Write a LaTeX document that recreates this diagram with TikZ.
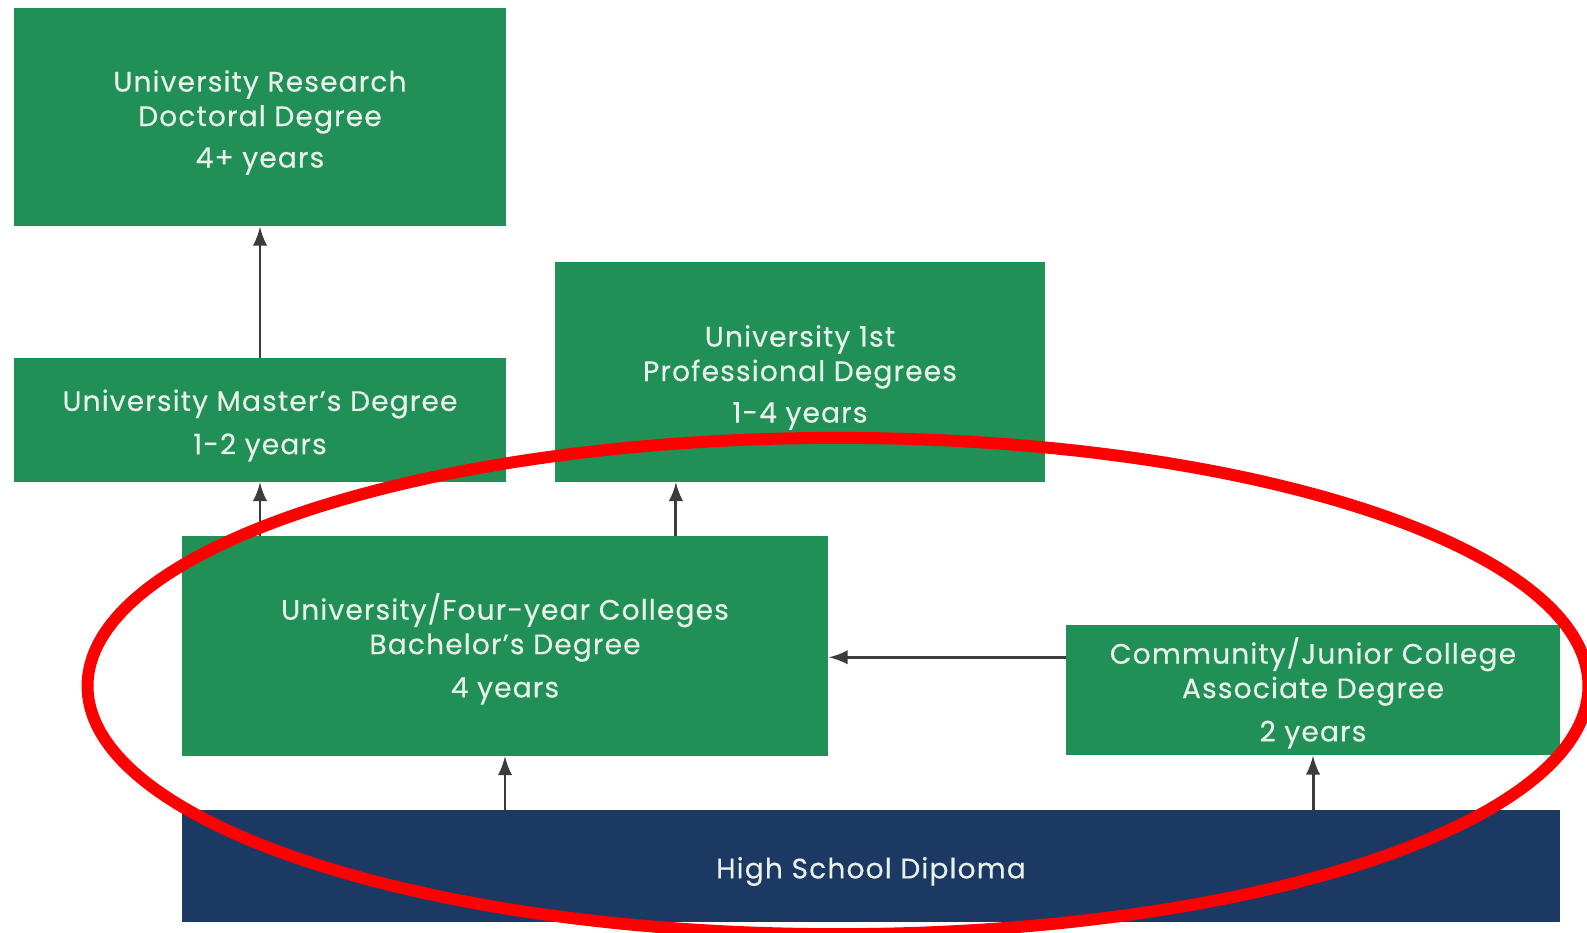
\documentclass[tikz,border=0pt]{standalone}
\usepackage{fontspec}
\setmainfont[LetterSpace=4,FakeBold=0.4]{Poppins}
\usetikzlibrary{positioning}
\definecolor{boxgreen}{RGB}{33,144,86}
\definecolor{hsblue}{RGB}{27,57,99}
\definecolor{arrgray}{RGB}{60,60,60}
\definecolor{txtwhite}{RGB}{232,240,234}
\newcommand\topln{\rule{0pt}{9.2pt}}
\begin{document}
\begin{tikzpicture}[x=0.01cm,y=-0.01cm,
  every node/.style={font=\fontsize{8}{9.8}\selectfont,text=txtwhite,align=center,inner sep=0pt},
  degree/.style={fill=boxgreen},
  arr/.style={draw=arrgray,line width=0.85pt,-latex}]
   \useasboundingbox (0,0) rectangle (1587,932);
   \node [degree,minimum width=4.91cm,minimum height=2.18cm] (doctoral) at (260,117)
     {\topln University Research\\Doctoral Degree\\[2pt]4+ years};
   \node [degree,minimum width=4.91cm,minimum height=1.23cm] (master) at (260,420)
     {\topln University Master's Degree\\[2.5pt]1-2 years};
   \node [degree,minimum width=4.89cm,minimum height=2.19cm] (professional) at (800,372)
     {\topln University 1st\\Professional Degrees\\[2pt]1-4 years};
   \node [degree,minimum width=6.46cm,minimum height=2.19cm] (bachelor) at (505,646)
     {\topln University/Four-year Colleges\\Bachelor's Degree\\[2.5pt]4 years};
   \node [degree,minimum width=4.93cm,minimum height=1.30cm] (community) at (1313,690)
     {\topln Community/Junior College\\Associate Degree\\[2.5pt]2 years};
   \node [fill=hsblue,minimum width=13.78cm,minimum height=1.11cm] (highschool) at (871,866)
     {\topln High School Diploma};
   % arrows
   \draw [arr] (master) -- (doctoral);
   \draw [arr] (bachelor.north -| master.south) -- (master);
   \coordinate (p1) at ([xshift=-12.4mm]professional.south);
   \draw [arr] (p1 |- bachelor.north) -- (p1);
   \coordinate (c1) at ([yshift=-3.3mm]community.north west);
   \draw [arr] (c1) -- (c1 -| bachelor.east);
   \draw [arr] (highschool.north -| bachelor.south) -- (bachelor);
   \draw [arr] (highschool.north -| community.south) -- (community);
   % red mark
   \draw [red,line width=3.4pt] (838,686) ellipse (7.5cm and 2.48cm);
\end{tikzpicture}
\end{document}
